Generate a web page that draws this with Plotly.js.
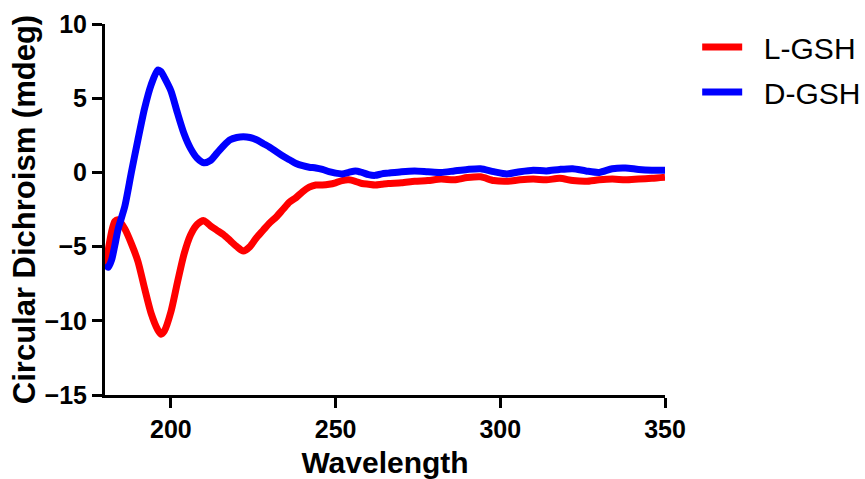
<!DOCTYPE html>
<html>
<head>
<meta charset="utf-8">
<script src="https://cdn.plot.ly/plotly-3.0.1.min.js"></script>
<style>html,body{margin:0;padding:0;background:#fff;}#chart{width:865px;height:479px;}</style>
</head>
<body>
<div id="chart"></div>
<script>
// Wavelength (nm)
const wavelength = [180,181,182,183,184,186,188,190,192,194,196,197,198,200,202,204,206,208,210,212,214,216,218,220,222,224,226,228,230,232,234,236,238,240,242,244,246,248,250,252,254,256,258,260,262,264,266,270,274,278,282,286,290,294,298,302,306,310,314,318,322,326,330,334,338,342,346,350];
// L-GSH CD signal (mdeg)
const lGSH = [-6.3,-5.2,-4.0,-3.3,-3.2,-3.8,-4.8,-6.0,-7.8,-9.5,-10.6,-10.9,-10.7,-9.4,-7.4,-5.5,-4.2,-3.5,-3.25,-3.6,-3.9,-4.2,-4.6,-5.0,-5.3,-5.0,-4.4,-3.9,-3.4,-3.0,-2.5,-2.0,-1.7,-1.3,-1.0,-0.85,-0.85,-0.8,-0.7,-0.55,-0.5,-0.6,-0.75,-0.8,-0.85,-0.8,-0.75,-0.7,-0.6,-0.55,-0.45,-0.5,-0.35,-0.3,-0.55,-0.6,-0.5,-0.45,-0.5,-0.4,-0.55,-0.6,-0.5,-0.45,-0.5,-0.45,-0.4,-0.33];
// D-GSH CD signal (mdeg)
const dGSH = [-6.2,-6.4,-5.9,-4.9,-3.8,-2.3,0.0,2.2,4.3,5.9,6.9,6.8,6.4,5.5,4.0,2.6,1.6,0.95,0.65,0.8,1.3,1.8,2.2,2.35,2.4,2.35,2.2,1.95,1.7,1.4,1.1,0.85,0.6,0.45,0.35,0.3,0.2,0.05,-0.05,-0.1,0.0,0.1,0.0,-0.15,-0.2,-0.1,-0.05,0.05,0.1,0.05,0.0,0.1,0.2,0.25,0.05,-0.1,0.05,0.15,0.1,0.2,0.25,0.1,0.0,0.25,0.3,0.2,0.15,0.15];

const seriesNames = ['L-GSH','D-GSH'];
const xTicks = [200,250,300,350];
const yTicks = [-15,-10,-5,0,5,10];

const FONT = 'Liberation Sans, Arial, Helvetica, sans-serif';
const PAD = '\u00a0\u00a0';

const traces = [
  {x: wavelength, y: lGSH, name: PAD + seriesNames[0], type: 'scatter', mode: 'lines',
   line: {color: '#ff0000', width: 7, shape: 'spline', smoothing: 0.7}, legend: 'legend'},
  {x: wavelength, y: dGSH, name: PAD + seriesNames[1], type: 'scatter', mode: 'lines',
   line: {color: '#0000ff', width: 7, shape: 'spline', smoothing: 0.7}, legend: 'legend2'}
];

const axisCommon = {
  showgrid: false, zeroline: false, showline: true, linecolor: '#000', linewidth: 3,
  ticks: 'outside', ticklen: 10, tickwidth: 3, tickcolor: '#000',
  tickfont: {family: FONT, size: 25, color: '#000', weight: 700}
};

const legendCommon = {
  xref: 'container', yref: 'container',
  x: 0.806, xanchor: 'left', yanchor: 'middle', bgcolor: 'rgba(0,0,0,0)',
  font: {family: FONT, size: 30, color: '#000'}, itemwidth: 40
};

const layout = {
  width: 865, height: 479,
  margin: {l: 105, r: 200, t: 24, b: 84, autoexpand: false},
  paper_bgcolor: '#fff', plot_bgcolor: '#fff',
  xaxis: Object.assign({}, axisCommon, {
    range: [180, 350], tickvals: xTicks, ticktext: xTicks.map(String),
    title: {text: 'Wavelength', font: {family: FONT, size: 30, color: '#000', weight: 700}, standoff: 12}
  }),
  yaxis: Object.assign({}, axisCommon, {
    range: [-15, 10], tickvals: yTicks, ticktext: yTicks.map(v => v < 0 ? '\u2212' + Math.abs(v) : String(v)),
    title: {text: 'Circular Dichroism (mdeg)', font: {family: FONT, size: 31, color: '#000', weight: 700}, standoff: 0}
  }),
  showlegend: true,
  legend: Object.assign({}, legendCommon, {y: 1 - 47/479}),
  legend2: Object.assign({}, legendCommon, {y: 1 - 92/479})
};

Plotly.newPlot('chart', traces, layout, {displayModeBar: false, staticPlot: true});
</script>
</body>
</html>
